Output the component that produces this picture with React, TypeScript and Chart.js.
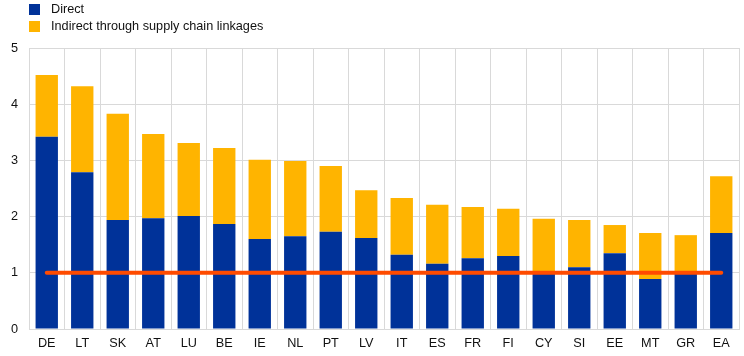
import React, { useEffect, useRef } from "react";
import { Chart, registerables } from "chart.js";

Chart.register(...registerables);

const categories = ["DE", "LT", "SK", "AT", "LU", "BE", "IE", "NL", "PT", "LV", "IT", "ES", "FR", "FI", "CY", "SI", "EE", "MT", "GR", "EA"];
const totals = [4.52, 4.32, 3.83, 3.47, 3.31, 3.22, 3.01, 2.99, 2.90, 2.47, 2.33, 2.21, 2.17, 2.14, 1.96, 1.94, 1.85, 1.71, 1.67, 2.72];
const direct = [3.42, 2.79, 1.94, 1.97, 2.01, 1.87, 1.60, 1.65, 1.73, 1.62, 1.32, 1.16, 1.26, 1.30, 1.00, 1.10, 1.35, 0.89, 1.00, 1.71];
const indirect = totals.map((t, i) => Math.round((t - direct[i]) * 100) / 100);
const reference = [1, 1, 1, 1, 1, 1, 1, 1, 1, 1, 1, 1, 1, 1, 1, 1, 1, 1, 1, 1];
const yTicks = [0, 1, 2, 3, 4, 5];

const BLUE = "#003299";
const YELLOW = "#FFB400";
const RED = "#FF4B00";
const GRID = "#D9D9D9";
const FONT = "'Liberation Sans', Arial, sans-serif";
const FS = 12.7;

export default function App() {
  const ref = useRef<HTMLCanvasElement | null>(null);
  useEffect(() => {
    document.body.style.margin = "0";
    const ctx = ref.current!;
    const chart = new Chart(ctx, {
      type: "bar",
      data: {
        labels: categories,
        datasets: [
          {
            type: "line",
            label: "Reference",
            data: reference,
            borderColor: RED,
            backgroundColor: RED,
            borderWidth: 4,
            borderCapStyle: "round",
            pointRadius: 0,
            tension: 0,
            stack: "line",
            order: 0,
          } as any,
          {
            label: "Direct",
            data: direct,
            backgroundColor: BLUE,
            stack: "bars",
            order: 1,
            categoryPercentage: 1,
            barPercentage: 0.63,
          },
          {
            label: "Indirect through supply chain linkages",
            data: indirect,
            backgroundColor: YELLOW,
            stack: "bars",
            order: 2,
            categoryPercentage: 1,
            barPercentage: 0.63,
          },
        ],
      },
      options: {
        responsive: false,
        animation: false,
        layout: { padding: { top: 48, right: 5, left: 0, bottom: 0 } },
        plugins: { legend: { display: false }, tooltip: { enabled: false } },
        scales: {
          x: {
            stacked: true,
            grid: { color: GRID, drawTicks: false, offset: true },
            border: { color: GRID },
            ticks: { color: "#111", font: { family: FONT, size: FS }, padding: 7 },
            afterFit: (s: any) => { s.height = 27; },
          },
          y: {
            stacked: true,
            min: 0,
            max: 5,
            afterBuildTicks: (s: any) => { s.ticks = yTicks.map((v) => ({ value: v })); },
            grid: { color: GRID, drawTicks: false },
            border: { color: GRID },
            ticks: { color: "#111", font: { family: FONT, size: FS }, padding: 11 },
            afterFit: (s: any) => { s.width = 29; },
          },
        },
      },
    });
    return () => chart.destroy();
  }, []);

  const legendItem = (color: string, text: string, top: number) => (
    <div style={{ position: "absolute", left: 29, top, display: "flex", alignItems: "center", height: 12 }}>
      <div style={{ width: 11, height: 11, background: color }} />
      <span style={{ marginLeft: 11, fontFamily: FONT, fontSize: FS, color: "#111", whiteSpace: "nowrap" }}>{text}</span>
    </div>
  );

  return (
    <div style={{ position: "relative", width: 744, height: 356 }}>
      <canvas ref={ref} width={744} height={356} style={{ display: "block" }} />
      {legendItem(BLUE, "Direct", 3)}
      {legendItem(YELLOW, "Indirect through supply chain linkages", 20)}
    </div>
  );
}
